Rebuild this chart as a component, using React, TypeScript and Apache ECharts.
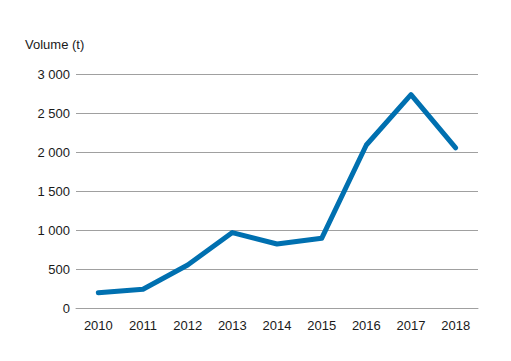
import React, { useEffect, useRef } from "react";
import * as echarts from "echarts";

const years = ["2010", "2011", "2012", "2013", "2014", "2015", "2016", "2017", "2018"];
const volumes = [196, 240, 552, 967, 820, 893, 2090, 2735, 2052];
const yAxisTitle = "Volume (t)";

function fmt(v: number): string {
  const s = String(Math.round(v));
  return s.replace(/\B(?=(\d{3})+(?!\d))/g, " ");
}

export default function App() {
  const ref = useRef<HTMLDivElement>(null);
  useEffect(() => {
    if (!ref.current) return;
    const chart = echarts.init(ref.current, null, { renderer: "svg" });
    chart.setOption({
      animation: false,
      backgroundColor: "#ffffff",
      textStyle: { fontFamily: "Liberation Sans, Arial, sans-serif" },
      graphic: [
        {
          type: "text",
          left: 25,
          top: 38,
          style: {
            text: yAxisTitle,
            fontSize: 13,
            fontFamily: "Liberation Sans, Arial, sans-serif",
            fill: "#1a1a1a",
          },
        },
      ],
      grid: { left: 76, right: 33, top: 74, bottom: 53, containLabel: false },
      xAxis: {
        type: "category",
        data: years,
        boundaryGap: true,
        axisLine: { show: true, lineStyle: { color: "#a0a0a0", width: 1 } },
        axisTick: { show: false },
        axisLabel: { color: "#1a1a1a", fontSize: 13, margin: 11 },
      },
      yAxis: {
        type: "value",
        min: 0,
        max: 3000,
        interval: 500,
        axisLine: { show: false },
        axisTick: { show: false },
        splitLine: { show: true, lineStyle: { color: "#a0a0a0", width: 1 } },
        axisLabel: { color: "#1a1a1a", fontSize: 13, margin: 6, formatter: (v: number) => fmt(v) },
      },
      series: [
        {
          type: "line",
          data: volumes,
          symbol: "none",
          lineStyle: { color: "#0070b0", width: 5, cap: "round", join: "round" },
          itemStyle: { color: "#0070b0" },
        },
      ],
    });
    return () => chart.dispose();
  }, []);
  return <div ref={ref} style={{ width: 511, height: 361, position: "absolute", left: 0, top: 0 }} />;
}
